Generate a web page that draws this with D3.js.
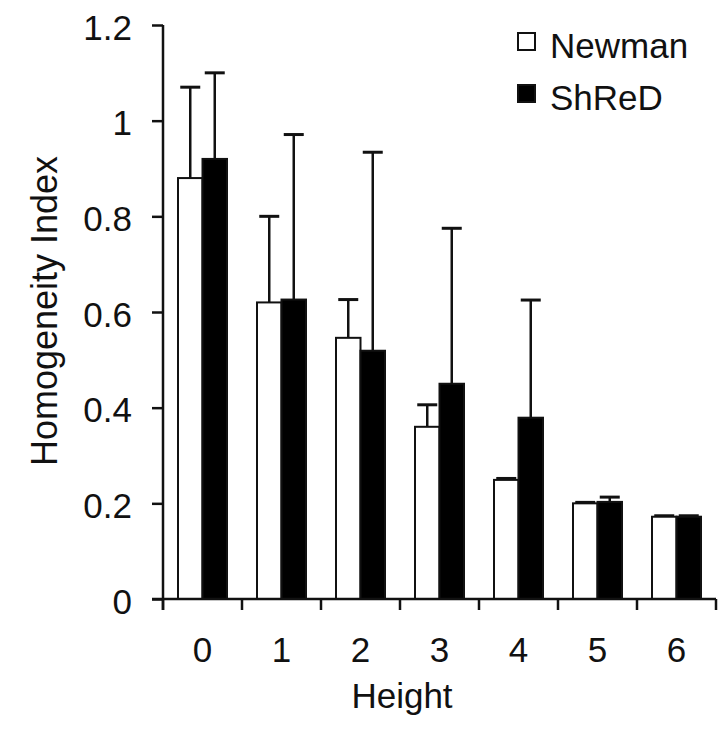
<!DOCTYPE html>
<html>
<head>
<meta charset="utf-8">
<script src="https://cdn.jsdelivr.net/npm/d3@7"></script>
<style>
  html, body { margin: 0; padding: 0; background: #fff; }
  svg text { font-family: "Liberation Sans", Arial, sans-serif; fill: #111; }
</style>
</head>
<body>
<svg id="chart" width="718" height="740"></svg>
<script>
// ---- data ----
const categories = ["0", "1", "2", "3", "4", "5", "6"];
const seriesNames = ["Newman", "ShReD"];
const newmanValues = [0.88, 0.62, 0.546, 0.36, 0.249, 0.2, 0.172];
const newmanErrors = [0.19, 0.18, 0.08, 0.046, 0.003, 0.002, 0.002];
const shredValues = [0.92, 0.626, 0.519, 0.45, 0.379, 0.203, 0.172];
const shredErrors = [0.18, 0.345, 0.415, 0.325, 0.246, 0.01, 0.002];
const yTickValues = [0, 0.2, 0.4, 0.6, 0.8, 1, 1.2];
const yTickLabels = ["0", "0.2", "0.4", "0.6", "0.8", "1", "1.2"];
const xTitle = "Height";
const yTitle = "Homogeneity Index";

// ---- layout ----
const svg = d3.select("#chart");
const mLeft = 163, mTop = 25, mRight = 716, mBottom = 599;

const x0 = d3.scaleBand().domain(categories).range([mLeft, mRight]).paddingInner(0).paddingOuter(0);
const x1 = d3.scaleBand().domain(seriesNames).range([15, x0.bandwidth() - 15]).padding(0);
const y = d3.scaleLinear().domain([0, 1.2]).range([mBottom, mTop]);

const rows = categories.map((c, i) => ({
  cat: c,
  items: [
    { name: "Newman", v: newmanValues[i], e: newmanErrors[i] },
    { name: "ShReD", v: shredValues[i], e: shredErrors[i] }
  ]
}));
const fill = { Newman: "#fff", ShReD: "#000" };

const groups = svg.append("g").selectAll("g").data(rows).join("g")
  .attr("transform", d => `translate(${x0(d.cat)},0)`);

groups.selectAll("g.err").data(d => d.items).join("g").attr("class", "err")
  .each(function(d) {
    const g = d3.select(this);
    const cx = x1(d.name) + x1.bandwidth() / 2;
    g.append("line").attr("x1", cx).attr("x2", cx)
      .attr("y1", y(d.v)).attr("y2", y(d.v + d.e))
      .attr("stroke", "#111").attr("stroke-width", 2.5);
    g.append("line").attr("x1", cx - 10).attr("x2", cx + 10)
      .attr("y1", y(d.v + d.e)).attr("y2", y(d.v + d.e))
      .attr("stroke", "#111").attr("stroke-width", 3);
  });

groups.selectAll("rect").data(d => d.items).join("rect")
  .attr("x", d => x1(d.name))
  .attr("width", x1.bandwidth())
  .attr("y", d => y(d.v))
  .attr("height", d => y(0) - y(d.v))
  .attr("fill", d => fill[d.name])
  .attr("stroke", "#111")
  .attr("stroke-width", 2);

// ---- axes ----
const yAxis = svg.append("g").attr("transform", `translate(${mLeft},0)`)
  .call(d3.axisLeft(y).tickValues(yTickValues).tickFormat((d, i) => yTickLabels[i])
    .tickSize(11).tickSizeOuter(0).tickPadding(20));
yAxis.select(".domain").remove();
yAxis.append("line").attr("x1", 0).attr("x2", 0).attr("y1", mTop).attr("y2", mBottom + 11)
  .attr("stroke", "#111").attr("stroke-width", 2.5);
yAxis.selectAll(".tick line").attr("stroke", "#111").attr("stroke-width", 2.5);
yAxis.selectAll(".tick text").attr("font-size", 35).attr("fill", "#111")
  .attr("font-family", "Liberation Sans, Arial, sans-serif").attr("dy", "0.4em");

const xAxis = svg.append("g");
xAxis.append("line").attr("x1", mLeft - 11).attr("x2", mRight)
  .attr("y1", mBottom).attr("y2", mBottom).attr("stroke", "#111").attr("stroke-width", 2.5);
const boundaries = categories.map(c => x0(c)).concat([x0(categories[categories.length - 1]) + x0.bandwidth()]);
xAxis.selectAll("line.tk").data(boundaries).join("line").attr("class", "tk")
  .attr("x1", d => d).attr("x2", d => d).attr("y1", mBottom).attr("y2", mBottom + 11)
  .attr("stroke", "#111").attr("stroke-width", 2.5);
xAxis.selectAll("text").data(categories).join("text")
  .attr("x", d => x0(d) + x0.bandwidth() / 2)
  .attr("y", mBottom + 63)
  .attr("text-anchor", "middle")
  .attr("font-size", 35)
  .text(d => d);

svg.append("text").attr("x", 402).attr("y", 708).attr("text-anchor", "middle")
  .attr("font-size", 35).text(xTitle);
svg.append("text").attr("transform", "translate(57,311) rotate(-90)")
  .attr("text-anchor", "middle").attr("font-size", 36).text(yTitle);

const legend = svg.append("g").selectAll("g").data(seriesNames).join("g")
  .attr("transform", (d, i) => `translate(518,${33 + i * 52})`);
legend.append("rect").attr("width", 17).attr("height", 17)
  .attr("fill", d => fill[d]).attr("stroke", "#111").attr("stroke-width", 2);
legend.append("text").attr("x", 32).attr("y", 25).attr("font-size", 35).text(d => d);
</script>
</body>
</html>
